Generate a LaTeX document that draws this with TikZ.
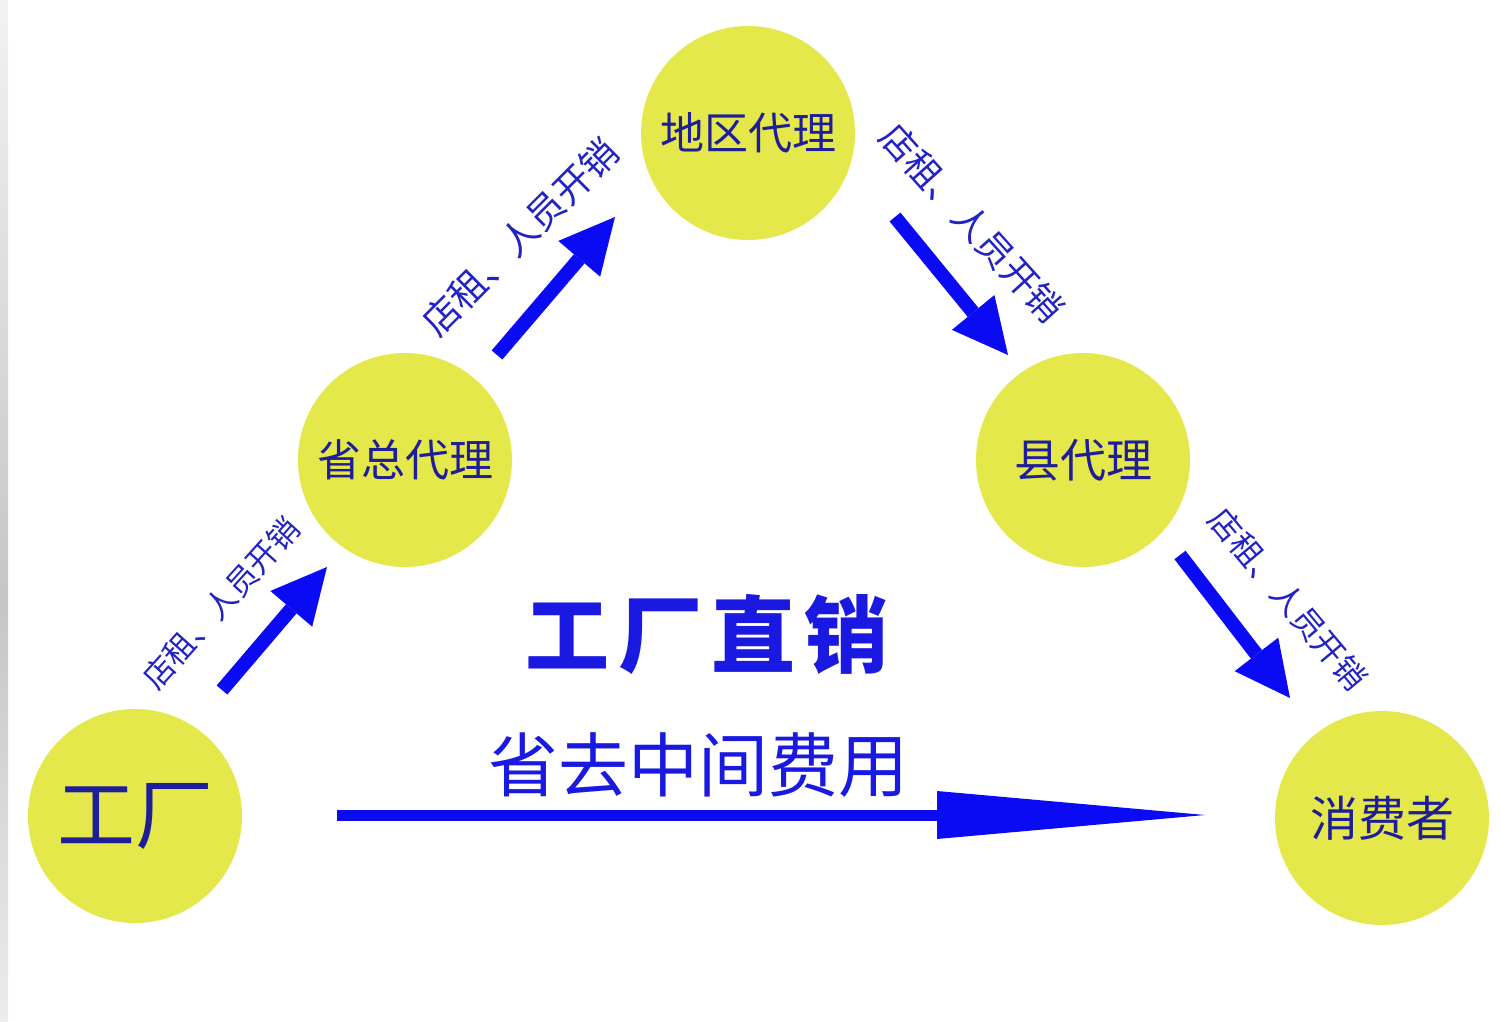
\documentclass[tikz,border=0pt]{standalone}
\usepackage{fontspec}
\setmainfont{Noto Sans CJK SC}
\usetikzlibrary{arrows.meta,calc}
\definecolor{circfill}{RGB}{228,232,74}
\definecolor{circtext}{RGB}{30,30,150}
\definecolor{labtext}{RGB}{35,35,195}
\definecolor{arrblue}{RGB}{10,10,245}
\definecolor{bigtext}{RGB}{25,25,225}
\tikzset{
  circ/.style={circle,fill=circfill,minimum size=214pt,inner sep=0pt,text=circtext},
  arr/.style={draw=arrblue,line width=14pt,-{Triangle[length=55pt,width=55pt,line width=0pt]}},
  bigarr/.style={draw=arrblue,line width=11pt,-{Triangle[length=268pt,width=48pt,line width=0pt]}},
  lab/.style={text=labtext,inner sep=0pt},
}
\begin{document}
\begin{tikzpicture}[x=1pt,y=-1pt]
\useasboundingbox (0,0) rectangle (1500,1022);
\fill[white] (0,0) rectangle (1500,1022);
\shade[top color=gray!10,bottom color=gray!45] (0,0) rectangle (8,600);
\shade[top color=gray!45,bottom color=gray!15] (0,600) rectangle (8,1022);

\node[circ,font=\fontsize{78}{80}\selectfont] (f) at (135,816) {工厂};
\node[circ,font=\fontsize{44}{46}\selectfont] (sz) at (405,460) {省总代理};
\node[circ,font=\fontsize{44}{46}\selectfont] (dq) at (748,133) {地区代理};
\node[circ,font=\fontsize{46}{48}\selectfont] (xd) at (1083,460) {县代理};
\node[circ,font=\fontsize{48}{50}\selectfont] (xf) at (1382,818) {消费者};

\draw[arr] ($(f)+(87,-126)$) -- ($(sz)+(-78,107)$);
\draw[arr] ($(sz)+(92,-105)$) -- ($(dq)+(-133,84)$);
\draw[arr] ($(dq)+(147,84)$) -- ($(xd)+(-75,-105)$);
\draw[arr] ($(xd)+(97,95)$) -- ($(xf)+(-92,-120)$);
\draw[bigarr] ($(f)+(202,-1)$) -- ($(xf)+(-177,-3)$);

\node[lab,rotate=48,font=\fontsize{31}{33}\selectfont] (l1) at (221,603) {店租、人员开销};
\node[lab,rotate=45,font=\fontsize{37}{39}\selectfont] (l2) at (520,237) {店租、人员开销};
\node[lab,rotate=-48,font=\fontsize{36}{38}\selectfont] (l3) at (972,223) {店租、人员开销};
\node[lab,rotate=-50,font=\fontsize{32}{34}\selectfont] (l4) at (1288,599) {店租、人员开销};

\node[text=bigtext,font=\fontsize{84}{86}\selectfont\bfseries,inner sep=0pt] (zx) at (707,634) {工\hspace{9pt}厂\hspace{9pt}直\hspace{9pt}销};
\node[text=bigtext,font=\fontsize{70}{72}\selectfont,inner sep=0pt] (sq) at (698,765) {省去中间费用};
\end{tikzpicture}
\end{document}
